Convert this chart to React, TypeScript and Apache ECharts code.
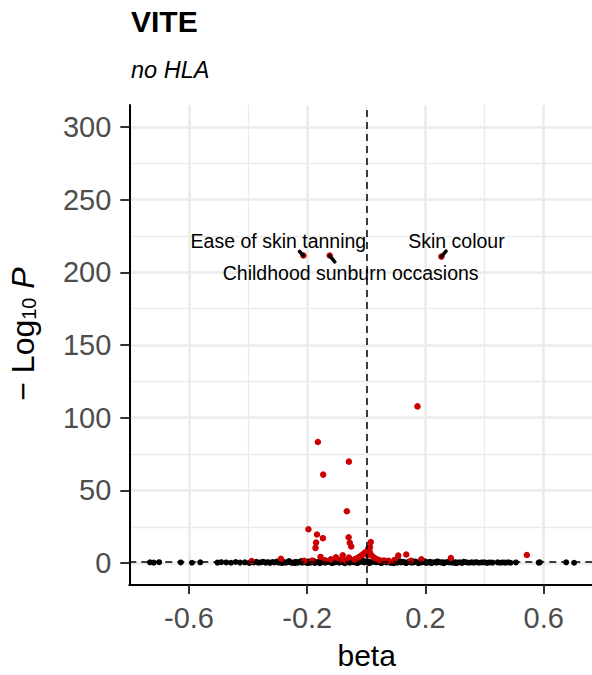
import React, { useEffect, useRef } from 'react';
import * as echarts from 'echarts';

const FONT = '"Liberation Sans", Arial, Helvetica, sans-serif';

// Axis breaks
const xTicks = [-0.6, -0.2, 0.2, 0.6];
const xMinorGrid = [-0.8, -0.4, 0, 0.4];
const yTicks = [0, 50, 100, 150, 200, 250, 300];
const yMinorGrid = [25, 75, 125, 175, 225, 275];

// Reference lines: null effect and -log10(0.05)
const betaNull = 0;
const pThreshold = 1.3;

// Associations that did not pass the threshold: [beta, -log10 P]
const nonSignificant: [number, number][] = [
  [-0.732, 0.6], [-0.719, 0.4], [-0.701, 0.7], [-0.628, 0.5], [-0.590, 0.3], [-0.562, 0.6],
  [-0.504, 0.4], [-0.491, 0.7], [-0.474, 0.5], [-0.458, 0.3], [-0.442, 0.8], [-0.427, 0.4],
  [-0.411, 0.6], [-0.396, 0.2], [-0.381, 0.5], [-0.372, 0.9], [-0.365, 0.3], [-0.357, 0.6],
  [-0.349, 1.0], [-0.341, 0.4], [-0.333, 0.7], [-0.326, 0.2], [-0.318, 0.8], [-0.311, 0.5],
  [-0.303, 1.1], [-0.296, 0.3], [-0.288, 0.6], [-0.281, 0.9], [-0.273, 0.4], [-0.266, 0.7],
  [-0.259, 1.0], [-0.252, 0.2], [-0.245, 0.6], [-0.238, 0.9], [-0.231, 0.4], [-0.224, 1.1],
  [-0.217, 0.3], [-0.210, 0.7], [-0.203, 0.5], [-0.196, 1.2], [-0.189, 0.4], [-0.182, 0.8],
  [-0.175, 0.2], [-0.168, 0.6], [-0.161, 1.0], [-0.154, 0.5], [-0.147, 0.9], [-0.140, 0.3],
  [-0.133, 0.7], [-0.126, 1.1], [-0.119, 0.4], [-0.112, 0.8], [-0.105, 0.6], [-0.098, 1.2],
  [-0.091, 0.3], [-0.084, 0.9], [-0.077, 0.5], [-0.070, 1.1], [-0.063, 0.7], [-0.056, 0.4],
  [-0.049, 1.0], [-0.042, 0.6], [-0.035, 1.2], [-0.028, 0.3], [-0.021, 0.8], [-0.014, 1.1],
  [-0.007, 0.5], [0.000, 0.9], [0.006, 1.2], [0.013, 0.4], [0.020, 0.8], [0.027, 1.0],
  [0.034, 0.6], [0.041, 1.2], [0.048, 0.3], [0.055, 0.7], [0.062, 1.0], [0.069, 0.5],
  [0.076, 0.9], [0.083, 0.2], [0.090, 0.6], [0.097, 1.1], [0.104, 0.4], [0.111, 0.8],
  [0.118, 0.5], [0.125, 1.0], [0.132, 0.3], [0.139, 0.7], [0.146, 0.9], [0.153, 0.4],
  [0.160, 0.6], [0.167, 1.1], [0.174, 0.3], [0.181, 0.8], [0.188, 0.5], [0.195, 0.9],
  [0.202, 0.2], [0.209, 0.6], [0.216, 1.0], [0.223, 0.4], [0.230, 0.7], [0.237, 0.3],
  [0.244, 0.9], [0.251, 0.5], [0.258, 0.7], [0.265, 0.3], [0.272, 0.8], [0.279, 0.5],
  [0.286, 0.6], [0.293, 0.3], [0.300, 0.7], [0.308, 0.4], [0.316, 0.6], [0.324, 0.2],
  [0.332, 0.8], [0.340, 0.5], [0.348, 0.3], [0.356, 0.6], [0.364, 0.4], [0.372, 0.7],
  [0.381, 0.3], [0.390, 0.5], [0.399, 0.6], [0.408, 0.2], [0.417, 0.5], [0.427, 0.4],
  [0.444, 0.6], [0.452, 0.3], [0.461, 0.5], [0.470, 0.4], [0.480, 0.6], [0.488, 0.3],
  [0.506, 0.5], [0.583, 0.4], [0.587, 0.6], [0.676, 0.6], [0.703, 0.3],
  [-0.285, 0.1], [-0.262, 1.4], [-0.241, 0.1], [-0.219, 1.5], [-0.199, 0.1], [-0.178, 1.4],
  [-0.157, 0.0], [-0.136, 1.6], [-0.115, 0.1], [-0.094, 1.5], [-0.073, 0.0], [-0.052, 1.7],
  [-0.031, 0.1], [-0.010, 1.8], [0.009, 0.0], [0.030, 1.6], [0.051, 0.1], [0.072, 1.4],
  [0.093, 0.0], [0.114, 1.3], [0.135, 0.1], [0.156, 1.4], [0.177, 0.0], [0.198, 1.3],
  [0.219, 0.1], [0.240, 1.2], [0.261, 0.0], [0.282, 1.1], [0.303, 0.1], [0.329, 1.0],
];

// Associations past the threshold: [beta, -log10 P]
const significant: [number, number][] = [
  [0.173, 107.8], [-0.164, 83.3], [-0.059, 69.8], [-0.146, 60.9], [-0.066, 35.7],
  [-0.196, 23.3], [-0.167, 19.7], [-0.147, 17.2], [-0.170, 14.2], [-0.172, 10.5],
  [-0.060, 17.8], [-0.056, 14.0], [-0.051, 11.5], [0.015, 14.5], [0.012, 11.0],
  [0.010, 8.6], [0.006, 9.8], [0.013, 6.8], [0.004, 5.6], [-0.004, 7.4],
  [-0.011, 6.2], [-0.017, 5.2], [-0.024, 4.3], [-0.032, 3.4], [-0.040, 2.6],
  [0.021, 4.8], [0.028, 3.6], [0.036, 2.7], [0.046, 2.0], [-0.155, 4.3],
  [-0.080, 5.4], [-0.103, 4.0], [-0.059, 3.9], [-0.120, 2.6], [-0.183, 1.8],
  [-0.289, 3.0], [-0.388, 1.5], [0.108, 5.2], [0.135, 6.0], [0.186, 2.7],
  [0.286, 3.6], [0.543, 5.6], [-0.210, 1.7], [-0.140, 2.0], [-0.090, 2.3],
  [-0.070, 1.9], [0.060, 1.8], [0.075, 1.6], [0.095, 2.1], [0.150, 1.7],
];

// Named traits
const labeledNames = ['Ease of skin tanning', 'Childhood sunburn occasions', 'Skin colour'];
const labeledBeta = [-0.213, -0.124, 0.254];
const labeledLogP = [211.5, 211.5, 210.8];
// Short leader segments, as a step in data units from each trait toward its label
const leaderDBeta = [-0.013, 0.017, 0.0155];
const leaderDLogP = [2.8, -4.4, 3.8];
// Label placement relative to its point, in pixels
const labelOffsets: [number, number][] = [[-25, -15], [21, 17], [15, -16]];

const RED = '#cc0000';

export default function App() {
  const ref = useRef<HTMLDivElement>(null);

  useEffect(() => {
    if (!ref.current) return;
    const chart = echarts.init(ref.current, undefined, { renderer: 'svg' });

    const majorGrid = { color: '#ebebeb', width: 2.6, type: 'solid' as const };
    const minorGrid = { color: '#ebebeb', width: 1.3, type: 'solid' as const };

    const option: any = {
      animation: false,
      backgroundColor: '#ffffff',
      title: {
        text: 'VITE',
        subtext: 'no HLA',
        left: 131,
        top: 6.5,
        itemGap: 21.5,
        padding: 0,
        textStyle: { fontFamily: FONT, fontSize: 30, fontWeight: 'bold', color: '#000', lineHeight: 30 },
        subtextStyle: { fontFamily: FONT, fontSize: 23.5, fontStyle: 'italic', color: '#000', lineHeight: 23.5 },
      },
      grid: { left: 129.3, top: 105, right: 0, height: 480, containLabel: false },
      xAxis: {
        type: 'value',
        min: -0.802,
        max: 0.7634,
        z: 10,
        axisLine: { onZero: false, lineStyle: { color: '#000', width: 2 } },
        axisTick: { show: true, customValues: xTicks, length: 9, lineStyle: { color: '#333', width: 2 } },
        axisLabel: {
          customValues: xTicks,
          formatter: (v: number) => v.toFixed(1),
          fontFamily: FONT,
          fontSize: 29,
          color: '#4d4d4d',
          margin: 18,
        },
        splitLine: { show: false },
        name: 'beta',
        nameLocation: 'middle',
        nameGap: 55,
        nameTextStyle: { fontFamily: FONT, fontSize: 30, color: '#000', lineHeight: 30, padding: [0, 0, 0, 12] },
      },
      yAxis: {
        type: 'value',
        min: -15,
        max: 315,
        z: 10,
        axisLine: { onZero: false, lineStyle: { color: '#000', width: 2 } },
        axisTick: { show: true, customValues: yTicks, length: 9, lineStyle: { color: '#333', width: 2 } },
        axisLabel: {
          customValues: yTicks,
          formatter: (v: number) => String(v),
          fontFamily: FONT,
          fontSize: 29,
          color: '#4d4d4d',
          margin: 18,
        },
        splitLine: { show: false },
      },
      graphic: [
        {
          type: 'text',
          x: 23,
          y: 334,
          rotation: Math.PI / 2,
          style: {
            text: '{m|\u2212 Log}{s|10}{p| P}',
            align: 'center',
            verticalAlign: 'middle',
            fill: '#000',
            rich: {
              m: { fontFamily: FONT, fontSize: 32, lineHeight: 32, fill: '#000', verticalAlign: 'bottom' },
              s: { fontFamily: FONT, fontSize: 20, lineHeight: 20, fill: '#000', verticalAlign: 'bottom' },
              p: { fontFamily: FONT, fontSize: 32, lineHeight: 32, fontStyle: 'italic', fill: '#000', verticalAlign: 'bottom' },
            },
          },
        },
      ],
      series: [
        {
          // panel grid lines
          type: 'scatter',
          z: 1,
          silent: true,
          symbolSize: 0,
          data: [[betaNull, 0]],
          markLine: {
            z: 1,
            silent: true,
            symbol: ['none', 'none'],
            label: { show: false },
            animation: false,
            data: [
              ...xMinorGrid.map((v) => ({ xAxis: v, lineStyle: minorGrid })),
              ...xTicks.map((v) => ({ xAxis: v, lineStyle: majorGrid })),
              ...yMinorGrid.map((v) => ({ yAxis: v, lineStyle: minorGrid })),
              ...yTicks.map((v) => ({ yAxis: v, lineStyle: majorGrid })),
            ],
          },
        },
        {
          type: 'scatter',
          z: 2,
          symbol: 'circle',
          symbolSize: 6,
          itemStyle: { color: '#000', opacity: 1 },
          data: nonSignificant,
        },
        {
          type: 'scatter',
          z: 3,
          symbol: 'circle',
          symbolSize: 6.5,
          itemStyle: { color: RED, opacity: 1 },
          data: significant,
        },
        {
          // dashed reference lines
          type: 'scatter',
          z: 4,
          silent: true,
          symbolSize: 0,
          data: [[betaNull, pThreshold]],
          markLine: {
            z: 4,
            silent: true,
            symbol: ['none', 'none'],
            label: { show: false },
            animation: false,
            lineStyle: { color: '#000', width: 1.5, type: [7, 5] },
            data: [{ xAxis: betaNull }, { yAxis: pThreshold }],
          },
        },
        {
          type: 'scatter',
          z: 5,
          symbol: 'circle',
          symbolSize: 6.5,
          itemStyle: { color: RED, opacity: 1 },
          data: labeledNames.map((name, i) => ({
            name,
            value: [labeledBeta[i], labeledLogP[i]],
            label: {
              show: true,
              formatter: name,
              position: 'inside',
              offset: labelOffsets[i],
              fontFamily: FONT,
              fontSize: 19.5,
              color: '#000',
            },
          })),
        },
        {
          type: 'lines',
          coordinateSystem: 'cartesian2d',
          z: 6,
          silent: true,
          polyline: false,
          lineStyle: { color: '#000', width: 3.5, opacity: 1, cap: 'round' },
          data: labeledNames.map((_, i) => ({
            coords: [
              [labeledBeta[i], labeledLogP[i]],
              [labeledBeta[i] + leaderDBeta[i], labeledLogP[i] + leaderDLogP[i]],
            ],
          })),
        },
      ],
    };

    chart.setOption(option);
    return () => chart.dispose();
  }, []);

  return (
    <div
      ref={ref}
      style={{ position: 'absolute', left: 0, top: 0, width: 592, height: 675, background: '#fff' }}
    />
  );
}
